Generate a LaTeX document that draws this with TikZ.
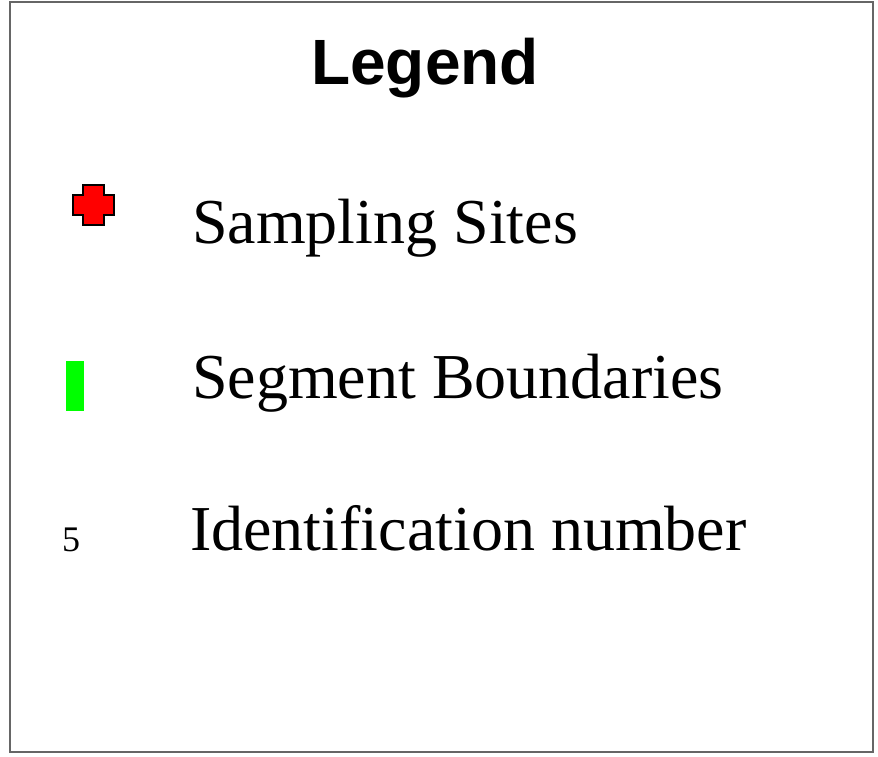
\documentclass[tikz,border=0pt]{standalone}
\usepackage{fontspec}
\setmainfont{Liberation Serif}
\newfontfamily\legendfont{Liberation Sans}

\begin{document}
\begin{tikzpicture}
      [%%%%%%%%%%%%%%%%%%%%%%%%%%%%%%
          x=1pt, y=-1pt,
          title/.style={anchor=base, inner sep=0pt, font=\legendfont\bfseries\fontsize{64}{76}\selectfont},
          entry/.style={anchor=base west, inner sep=0pt, font=\fontsize{64}{76}\selectfont},
          site/.style={draw=black, line width=1.5pt, fill=red},
          boundary/.style={fill=green, draw=none}
      ]%%%%%%%%%%%%%%%%%%%%%%%%%%%%%%

  \useasboundingbox (0,0) rectangle (878,757);
  \fill[white] (0,0) rectangle (878,757);
  \draw[line width=2pt, draw=black!60, fill=white] (10,2) rectangle (873,752);

  \node[title] (legend) at (425,85) {Legend};

  % symbols
  \draw[site] (83,185) -- (104,185) -- (104,195) -- (114,195) -- (114,215)
      -- (104,215) -- (104,225) -- (83,225) -- (83,215) -- (73,215)
      -- (73,195) -- (83,195) -- cycle;
  \fill[boundary] (66,361) rectangle (84,411);
  \node[anchor=base west, inner sep=0pt, font=\fontsize{36}{40}\selectfont] (idnum) at (62,551) {5};

  % labels
  \node[entry] (sites) at (192,243) {Sampling Sites};
  \node[entry] (bounds) at (192,398) {Segment Boundaries};
  \node[entry] (ident) at (190,550) {Identification number};

  \end{tikzpicture}
\end{document}
